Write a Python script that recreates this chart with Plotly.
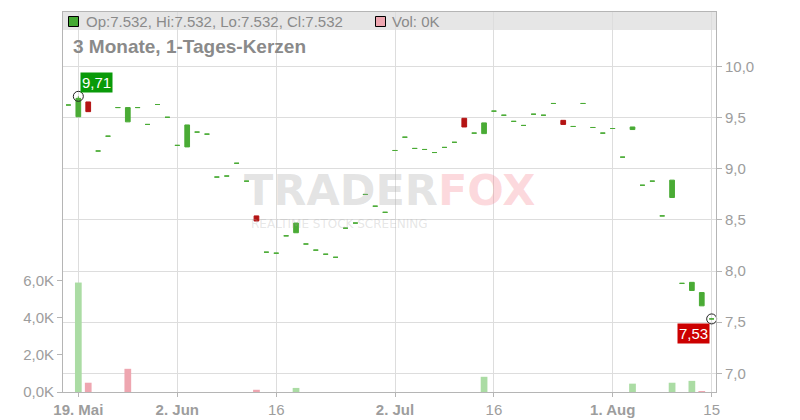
import plotly.graph_objects as go
import pandas as pd

# ---------------- data ----------------
dates = [d.strftime("%Y-%m-%d") for d in pd.bdate_range("2025-05-16", "2025-08-15")]

opens = [9.625, 9.51, 9.655, 9.175, 9.32, 9.60,
         9.46, 9.60, 9.435, 9.63, 9.505,
         9.23, 9.215, 9.36, 9.34, 8.92,
         8.93, 9.055, 8.88, 8.54, 8.185,
         8.175, 8.345, 8.375, 8.265, 8.205,
         8.165, 8.135, 8.42, 8.47, 8.75,
         8.635, 8.575, 9.18, 9.31, 9.20,
         9.19, 9.16, 9.21, 9.26, 9.495,
         9.35, 9.345, 9.565, 9.525, 9.465,
         9.425, 9.535, 9.525, 9.64, 9.475,
         9.415, 9.64, 9.405, 9.35, 9.395,
         9.115, 9.385, 8.84, 8.88, 8.54,
         8.72, 7.88, 7.81, 7.66, 7.532]

closes = [9.625, 9.69, 9.56, 9.175, 9.32, 9.60,
          9.60, 9.60, 9.435, 9.63, 9.505,
          9.23, 9.43, 9.36, 9.34, 8.92,
          8.93, 9.055, 8.88, 8.49, 8.185,
          8.175, 8.345, 8.47, 8.265, 8.205,
          8.165, 8.135, 8.42, 8.47, 8.75,
          8.635, 8.575, 9.18, 9.31, 9.20,
          9.19, 9.16, 9.21, 9.26, 9.41,
          9.35, 9.45, 9.565, 9.525, 9.465,
          9.425, 9.535, 9.525, 9.64, 9.435,
          9.415, 9.64, 9.405, 9.35, 9.395,
          9.115, 9.41, 8.84, 8.88, 8.54,
          8.89, 7.88, 7.89, 7.79, 7.532]

period_high = 9.71
period_high_date = "2025-05-19"
last_price = 7.532

highs = [max(o, c) for o, c in zip(opens, closes)]
lows = [min(o, c) for o, c in zip(opens, closes)]
highs[dates.index(period_high_date)] = period_high

vol_dates = ["2025-05-19", "2025-05-20", "2025-05-26", "2025-06-12", "2025-06-18",
             "2025-07-15", "2025-08-05", "2025-08-11", "2025-08-13", "2025-08-14"]
vol_values = [5900, 500, 1250, 120, 220, 820, 450, 500, 600, 50]
vol_dir = ["up", "down", "down", "down", "up", "up", "up", "up", "up", "down"]

tick_dates = ["2025-05-19", "2025-06-02", "2025-06-16", "2025-07-02",
              "2025-07-16", "2025-08-01", "2025-08-15"]
tick_labels = ["<b>19. Mai</b>", "<b>2. Jun</b>", "16", "<b>2. Jul</b>",
               "16", "<b>1. Aug</b>", "15"]

price_ticks = [7.0, 7.5, 8.0, 8.5, 9.0, 9.5, 10.0]
vol_ticks = [0, 2000, 4000, 6000]
vol_tick_labels = ["0,0K", "2,0K", "4,0K", "6,0K"]

# ---------------- style ----------------
FONT = "Liberation Sans, Arial, sans-serif"
GREEN = "#4aab35"
RED = "#b41414"
VOL_COL = {"up": "#abdca4", "down": "#eea6b0"}
GRID = "#dddddd"
AXIS = "#b5b5b5"
TICKC = "#9d9d9d"
TXT = "#8a8a8a"

L, R, T, B = 63, 84, 12, 28
W, H = 800, 420
PW, PH = W - L - R, H - T - B


def px(x):
    return (x - L) / PW


def py(y):
    return (H - B - y) / PH


fig = go.Figure()

fig.add_trace(go.Bar(
    x=vol_dates, y=vol_values, yaxis="y",
    marker=dict(color=[VOL_COL[d] for d in vol_dir], line=dict(width=0)),
    width=0.68 * 86400000, hoverinfo="skip"))

up_idx = [i for i in range(len(dates)) if closes[i] >= opens[i]]
dn_idx = [i for i in range(len(dates)) if closes[i] < opens[i]]
for idx, col in ((up_idx, GREEN), (dn_idx, RED)):
    fig.add_trace(go.Candlestick(
        x=[dates[i] for i in idx],
        open=[opens[i] for i in idx], high=[highs[i] for i in idx],
        low=[lows[i] for i in idx], close=[closes[i] for i in idx],
        yaxis="y2",
        increasing=dict(line=dict(color=col, width=1), fillcolor=col),
        decreasing=dict(line=dict(color=col, width=1), fillcolor=col),
        whiskerwidth=0, hoverinfo="skip"))

fig.add_trace(go.Scatter(
    x=[period_high_date, dates[-1]], y=[period_high, last_price], yaxis="y2",
    mode="markers", cliponaxis=False,
    marker=dict(symbol="circle-open", size=10, color="#222222", line=dict(width=1)),
    hoverinfo="skip"))

shapes = [
    dict(type="rect", xref="paper", yref="paper", x0=0, x1=1,
         y0=py(30), y1=1, fillcolor="#e6e6e6", line=dict(width=0), layer="below"),
    dict(type="rect", xref="paper", yref="paper", x0=px(68.5), x1=px(78.5),
         y0=py(26.5), y1=py(16.5), fillcolor="#44aa33",
         line=dict(color="#000000", width=1), layer="above"),
    dict(type="rect", xref="paper", yref="paper", x0=px(375.5), x1=px(385.5),
         y0=py(26.5), y1=py(16.5), fillcolor="#eea6b0",
         line=dict(color="#000000", width=1), layer="above"),
]

annotations = [
    dict(xref="paper", yref="paper", x=px(84), y=py(21.5), xanchor="left", yanchor="middle",
         text="Op:7.532, Hi:7.532, Lo:7.532, Cl:7.532", showarrow=False,
         font=dict(family=FONT, size=15, color=TXT)),
    dict(xref="paper", yref="paper", x=px(390), y=py(21.5), xanchor="left", yanchor="middle",
         text="Vol: 0K", showarrow=False, font=dict(family=FONT, size=15, color=TXT)),
    dict(xref="paper", yref="paper", x=px(71), y=py(47), xanchor="left", yanchor="middle",
         text="<b>3 Monate, 1-Tages-Kerzen</b>", showarrow=False,
         font=dict(family=FONT, size=19, color=TXT)),
    # watermark (semi-transparent so marks stay visible)
    dict(xref="paper", yref="paper", x=px(389), y=py(190), xanchor="center", yanchor="middle",
         text="<b><span style='color:rgba(170,170,170,0.32)'>TRADER</span>"
              "<span style='color:rgba(245,120,135,0.28)'>FOX</span></b>",
         showarrow=False, font=dict(family="DejaVu Sans, sans-serif", size=43)),
    dict(xref="paper", yref="paper", x=px(339), y=py(224), xanchor="center", yanchor="middle",
         text="REALTIME STOCK SCREENING", showarrow=False,
         font=dict(family="DejaVu Sans, sans-serif", size=12, color="rgba(170,170,170,0.3)")),
    # value badges
    dict(xref="x", yref="y2", x=period_high_date, y=period_high, xanchor="left", yanchor="bottom",
         xshift=2, yshift=3, text="9,71", showarrow=False, bgcolor="#099a09", borderpad=1,
         font=dict(family=FONT, size=15, color="white")),
    dict(xref="x", yref="y2", x=dates[-1], y=last_price, xanchor="right", yanchor="top",
         xshift=-2, yshift=-4, text="7,53", showarrow=False, bgcolor="#cc0000", borderpad=1,
         font=dict(family=FONT, size=15, color="white")),
]

fig.update_layout(
    template="none",
    width=W, height=H,
    margin=dict(l=L, r=R, t=T, b=B, pad=0, autoexpand=False),
    paper_bgcolor="white", plot_bgcolor="white",
    showlegend=False, separators=",.", boxgap=0.32,
    shapes=shapes, annotations=annotations,
    xaxis=dict(
        type="date", range=["2025-05-15 10:50", "2025-08-15 10:30"],
        rangebreaks=[dict(bounds=["sat", "mon"])],
        rangeslider=dict(visible=False), automargin=False,
        tickmode="array", tickvals=tick_dates, ticktext=tick_labels,
        showgrid=True, gridcolor=GRID, gridwidth=1,
        showline=True, linecolor=AXIS, linewidth=1, mirror=True,
        ticks="outside", ticklen=4, tickcolor=AXIS,
        tickfont=dict(family=FONT, size=15, color=TICKC), fixedrange=True),
    yaxis=dict(
        range=[0, 20485], tickmode="array", tickvals=vol_ticks, ticktext=vol_tick_labels,
        showgrid=False, zeroline=False, showline=True, linecolor=AXIS, linewidth=1,
        ticks="outside", ticklen=5, tickcolor=AXIS, side="left", automargin=False,
        tickfont=dict(family=FONT, size=15, color=TICKC)),
    yaxis2=dict(
        overlaying="y", side="right", range=[6.817, 10.535],
        tickmode="array", tickvals=price_ticks, tickformat=".1f", automargin=False,
        showgrid=True, gridcolor=GRID, gridwidth=1, zeroline=False,
        showline=True, linecolor=AXIS, linewidth=1,
        ticks="outside", ticklen=5, tickcolor=AXIS,
        tickfont=dict(family=FONT, size=15, color=TICKC)),
)

fig.write_html("out.html", config={"displayModeBar": False},
               post_script="document.body.style.margin='0';document.body.style.padding='0';")
